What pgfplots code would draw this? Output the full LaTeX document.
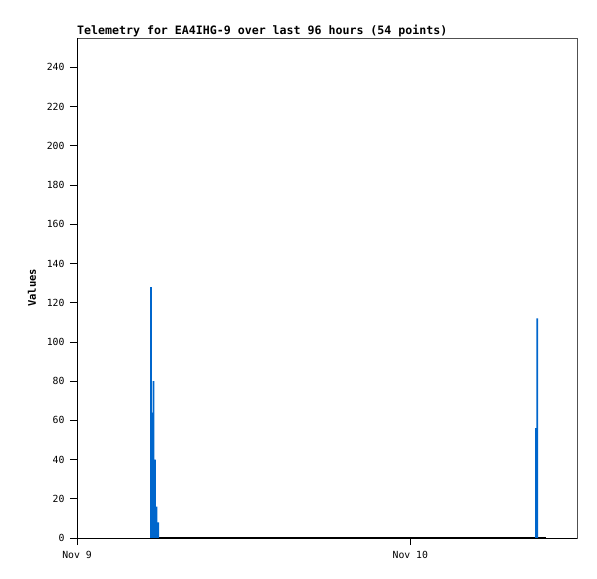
\documentclass[border=0pt]{standalone}
\usepackage{fontspec}
\setmainfont{DejaVu Sans Mono}
\usepackage{pgfplots}
\pgfplotsset{compat=1.18}
\definecolor{barblue}{RGB}{0,102,204}
\definecolor{boxgray}{RGB}{80,80,80}
\begin{document}
\begin{tikzpicture}
\path[use as bounding box] (-77bp,-41bp) rectangle (520bp,538bp);
\begin{axis}[
  width=500bp, height=500bp, scale only axis,
  xmin=0, xmax=36, ymin=0, ymax=255,
  xtick={0,24}, xticklabels={Nov 9,Nov 10},
  ytick={0,20,...,240},
  tick align=outside, major tick length=7bp,
  tick style={black, line width=0.8bp},
  xtick pos=bottom, ytick pos=left,
  axis line style={boxgray, line width=0.8bp},
  /pgf/number format/assume math mode=true,
  ticklabel style={font=\fontsize{9.8bp}{11bp}\selectfont},
  yticklabel style={xshift=-2bp},
  xticklabel style={yshift=-3bp},
  clip=false,
]
\addplot[black, line width=2bp] coordinates {(5.26,0) (33.8,0)};
\addplot[ybar, bar width=1.8bp, fill=barblue, draw=none, mark=none] coordinates {
  (5.33,128) (5.43,64) (5.51,80) (5.62,40) (5.73,16) (5.84,8)
  (33.05,56) (33.14,112)
};
\draw[black, line width=0.8bp] (rel axis cs:0,0) -- (rel axis cs:0,1);
\draw[black, line width=0.8bp] (rel axis cs:0,0) -- (rel axis cs:1,0);
\node[anchor=base west, inner sep=0pt, font=\fontsize{11.6bp}{13bp}\selectfont\bfseries] at ([yshift=3bp]rel axis cs:0,1) {Telemetry for EA4IHG-9 over last 96 hours (54 points)};
\node[rotate=90, anchor=center, font=\fontsize{10.5bp}{12bp}\selectfont\bfseries] at ([xshift=-45bp]rel axis cs:0,0.5) {Values};
\end{axis}
\end{tikzpicture}
\end{document}
